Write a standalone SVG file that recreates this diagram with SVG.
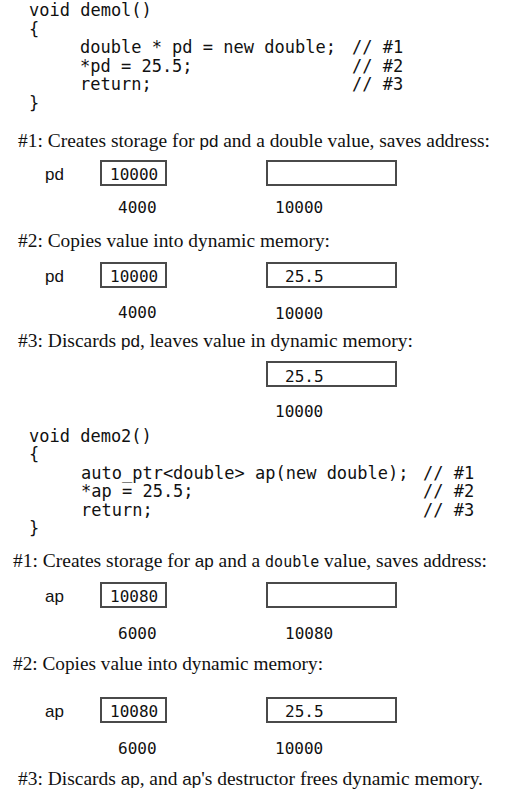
<svg xmlns="http://www.w3.org/2000/svg" width="505" height="799" viewBox="0 0 505 799">
<style>
.code{font-family:"DejaVu Sans Mono",monospace;font-size:17px;fill:#111}
.txt{font-family:"Liberation Serif",serif;font-size:19.5px;fill:#111}
.sans{font-family:"Liberation Sans",sans-serif;font-size:17px}
.mono{font-family:"DejaVu Sans Mono",monospace;font-size:15px}
.lbl{font-family:"Liberation Sans",sans-serif;font-size:17px;fill:#111}
.num{font-family:"DejaVu Sans Mono",monospace;font-size:16px;fill:#111}
.box{fill:#fff;stroke:#4a4a4a;stroke-width:2}
</style>
<rect width="505" height="799" fill="#fff"/>
<g id="code1">
<text class="code" x="29" y="16">void demol()</text>
<text class="code" x="29" y="34.5">{</text>
<text class="code" x="80" y="53">double * pd = new double;</text>
<text class="code" x="352" y="53">// #1</text>
<text class="code" x="80" y="71.5">*pd = 25.5;</text>
<text class="code" x="352" y="71.5">// #2</text>
<text class="code" x="80" y="90">return;</text>
<text class="code" x="352" y="90">// #3</text>
<text class="code" x="29" y="108.5">}</text>
</g>
<g id="step1a">
<text class="txt" x="18" y="146.5" textLength="472" lengthAdjust="spacingAndGlyphs">#1: Creates storage for <tspan class="sans">pd</tspan> and a double value, saves address:</text>
<text class="lbl" x="45" y="180">pd</text>
<g id="pd1"><rect class="box" x="101" y="161" width="65" height="24"/><text class="num" x="110" y="179.5">10000</text></g>
<g id="heap1"><rect class="box" x="267" y="161" width="129" height="24"/></g>
<text class="num" x="118" y="213">4000</text>
<text class="num" x="275" y="213">10000</text>
</g>
<g id="step2a">
<text class="txt" x="18" y="247" textLength="312" lengthAdjust="spacingAndGlyphs">#2: Copies value into dynamic memory:</text>
<text class="lbl" x="45" y="281.5">pd</text>
<g id="pd2"><rect class="box" x="101" y="263" width="65" height="24"/><text class="num" x="110" y="281.5">10000</text></g>
<g id="heap2"><rect class="box" x="267" y="263" width="129" height="24"/><text class="num" x="285" y="281.5">25.5</text></g>
<text class="num" x="118" y="318">4000</text>
<text class="num" x="275" y="318.5">10000</text>
</g>
<g id="step3a">
<text class="txt" x="18" y="346.5" textLength="395" lengthAdjust="spacingAndGlyphs">#3: Discards <tspan class="sans">pd</tspan>, leaves value in dynamic memory:</text>
<g id="heap3"><rect class="box" x="267" y="362" width="129" height="24"/><text class="num" x="285" y="381.5">25.5</text></g>
<text class="num" x="275" y="417">10000</text>
</g>
<g id="code2">
<text class="code" x="29" y="441.5">void demo2()</text>
<text class="code" x="29" y="460">{</text>
<text class="code" x="81" y="478.5">auto_ptr&lt;double&gt; ap(new double);</text>
<text class="code" x="423" y="478.5">// #1</text>
<text class="code" x="81" y="497">*ap = 25.5;</text>
<text class="code" x="423" y="497">// #2</text>
<text class="code" x="81" y="515.5">return;</text>
<text class="code" x="423" y="515.5">// #3</text>
<text class="code" x="29" y="534">}</text>
</g>
<g id="step1b">
<text class="txt" x="13" y="566.5" textLength="474" lengthAdjust="spacingAndGlyphs">#1: Creates storage for <tspan class="sans">ap</tspan> and a <tspan class="mono">double</tspan> value, saves address:</text>
<text class="lbl" x="45" y="601.5">ap</text>
<g id="ap1"><rect class="box" x="101" y="583" width="65" height="24"/><text class="num" x="110" y="601.5">10080</text></g>
<g id="heap4"><rect class="box" x="267" y="583" width="129" height="24"/></g>
<text class="num" x="118" y="639">6000</text>
<text class="num" x="285" y="639">10080</text>
</g>
<g id="step2b">
<text class="txt" x="13" y="670" textLength="310" lengthAdjust="spacingAndGlyphs">#2: Copies value into dynamic memory:</text>
<text class="lbl" x="45" y="716.5">ap</text>
<g id="ap2"><rect class="box" x="101" y="698" width="65" height="24"/><text class="num" x="110" y="716.5">10080</text></g>
<g id="heap5"><rect class="box" x="267" y="698" width="129" height="24"/><text class="num" x="285" y="716.5">25.5</text></g>
<text class="num" x="118" y="754">6000</text>
<text class="num" x="275" y="754">10000</text>
</g>
<g id="step3b">
<text class="txt" x="18" y="785" textLength="465" lengthAdjust="spacingAndGlyphs">#3: Discards <tspan class="sans">ap</tspan>, and <tspan class="sans">ap</tspan>'s destructor frees dynamic memory.</text>
</g>
</svg>
